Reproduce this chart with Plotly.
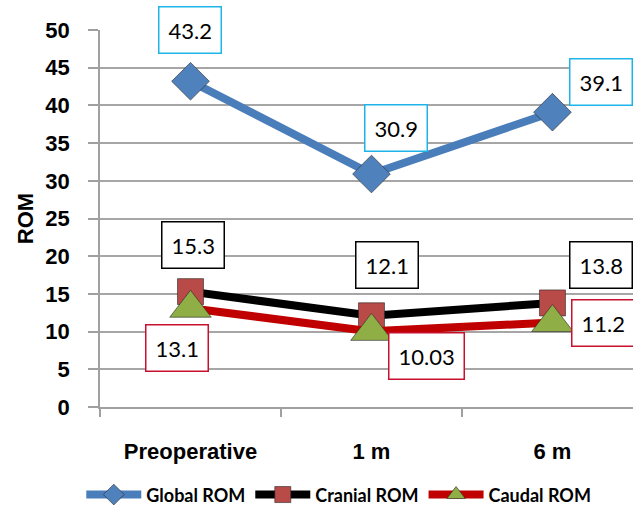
import plotly.graph_objects as go

# Range of motion (degrees) at each follow-up time
timepoints = ["Preoperative", "1 m", "6 m"]
global_rom = [43.2, 30.9, 39.1]
cranial_rom = [15.3, 12.1, 13.8]
caudal_rom = [13.1, 10.03, 11.2]
value_labels_caudal = ["13.1", "10.03", "11.2"]

series = [
    dict(name="Global ROM", y=global_rom, line="#4a7ebb", marker="#4f81bd",
         symbol="diamond", size=29, box="#1fb4e8",
         shifts=[(0, 51), (25, 46), (49, 30)]),
    dict(name="Cranial ROM", y=cranial_rom, line="#000000", marker="#b84a47",
         symbol="square", size=26, box="#000000",
         shifts=[(3, 47), (16, 51), (49, 38)]),
    dict(name="Caudal ROM", y=caudal_rom, line="#c00000", marker="#8fae45",
         symbol="triangle-up", size=36, box="#c8102e",
         shifts=[(-13, -40), (55, -25), (51, 0)]),
]

fig = go.Figure()
for s in series:
    fig.add_trace(go.Scatter(
        x=timepoints, y=s["y"], name=s["name"], mode="lines+markers",
        line=dict(color=s["line"], width=8),
        marker=dict(symbol=s["symbol"], size=s["size"], color=s["marker"],
                    line=dict(color="rgba(40,40,40,0.6)", width=1)),
    ))

annotations = []
for s in series:
    for i, (x, y) in enumerate(zip(timepoints, s["y"])):
        text = value_labels_caudal[i] if s["name"] == "Caudal ROM" else f"{y:g}"
        dx, dy = s["shifts"][i]
        annotations.append(dict(
            x=x, y=y, xref="x", yref="y", text=text, showarrow=False,
            xshift=dx, yshift=dy, font=dict(family="Lato", size=22, color="#000"),
            bgcolor="white", bordercolor=s["box"], borderwidth=1.5, borderpad=9,
        ))

axis_font = dict(family="Liberation Sans", size=22, color="#000", weight="bold")

fig.update_layout(
    width=633, height=508,
    margin=dict(l=100, r=0, t=30, b=101, autoexpand=False),
    paper_bgcolor="white", plot_bgcolor="white",
    font=dict(family="Liberation Sans", color="#000"),
    annotations=annotations,
    showlegend=True,
    legend=dict(orientation="h", x=0.448, xanchor="center", y=-0.233, yanchor="middle",
                font=dict(family="Lato", size=18, color="#000", weight="bold"),
                itemwidth=55, tracegroupgap=0),
    xaxis=dict(
        type="category", range=[-0.5, 2.445], tickson="boundaries",
        ticks="outside", ticklen=8, tickcolor="#a0a0a0", tickwidth=1.5,
        showline=True, linecolor="#a0a0a0", linewidth=1.5, showgrid=False,
        tickfont=axis_font, ticklabelstandoff=24, automargin=False,
    ),
    yaxis=dict(
        range=[0, 50], dtick=5, ticks="outside", ticklen=10, tickcolor="#a0a0a0",
        tickwidth=1.5, showline=True, linecolor="#a0a0a0", linewidth=1.5,
        showgrid=True, gridcolor="#a6a6a6", gridwidth=1.5, zeroline=False,
        tickfont=axis_font, ticklabelstandoff=14, automargin=False,
        title=dict(text="ROM", font=axis_font, standoff=6),
    ),
)

fig.write_html("out.html")
